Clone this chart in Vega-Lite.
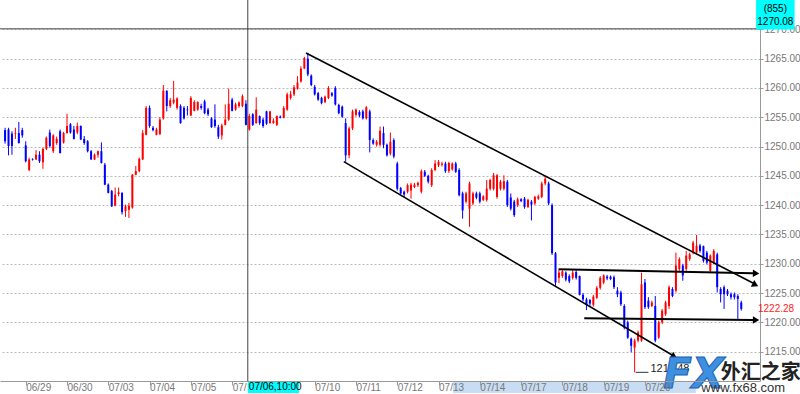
{
"$schema": "https://vega.github.io/schema/vega-lite/v6.json",
"width": 760, "height": 381,
"autosize": "none",
"padding": {"left": 0, "top": 0, "right": 40, "bottom": 13},
"background": "white",
"config": {"view": {"stroke": null}, "font": "Liberation Sans"},
"data": {"values": [
{"t":-6,"o":1252.8,"h":1253.2,"l":1250.5,"c":1250.9},
{"t":-5,"o":1252.9,"h":1253.2,"l":1248.5,"c":1250.1},
{"t":-4,"o":1252.2,"h":1252.6,"l":1248.6,"c":1250.1},
{"t":-3,"o":1252.2,"h":1253.2,"l":1251.3,"c":1252.3},
{"t":-2,"o":1252.3,"h":1254.2,"l":1250.5,"c":1250.6},
{"t":-1,"o":1252.8,"h":1253.2,"l":1251.5,"c":1251.9},
{"t":0,"o":1250.2,"h":1250.9,"l":1247.3,"c":1247.5},
{"t":1,"o":1246.0,"h":1248.1,"l":1245.8,"c":1247.8},
{"t":2,"o":1247.8,"h":1248.0,"l":1247.6,"c":1247.7},
{"t":3,"o":1247.8,"h":1249.4,"l":1247.7,"c":1248.6},
{"t":4,"o":1248.6,"h":1249.2,"l":1247.2,"c":1247.5},
{"t":5,"o":1247.3,"h":1249.8,"l":1246.2,"c":1249.6},
{"t":6,"o":1249.6,"h":1251.7,"l":1249.4,"c":1251.5},
{"t":7,"o":1252.4,"h":1252.9,"l":1249.8,"c":1250.1},
{"t":8,"o":1249.2,"h":1252.1,"l":1248.9,"c":1251.9},
{"t":9,"o":1250.6,"h":1251.7,"l":1250.3,"c":1251.3},
{"t":10,"o":1252.6,"h":1252.9,"l":1248.8,"c":1248.9},
{"t":11,"o":1250.7,"h":1252.5,"l":1250.5,"c":1252.3},
{"t":12,"o":1252.3,"h":1255.6,"l":1252.2,"c":1253.5},
{"t":13,"o":1253.8,"h":1254.0,"l":1252.2,"c":1252.4},
{"t":14,"o":1252.9,"h":1253.5,"l":1251.2,"c":1251.3},
{"t":15,"o":1252.4,"h":1254.1,"l":1252.1,"c":1253.5},
{"t":16,"o":1253.5,"h":1253.6,"l":1251.1,"c":1251.2},
{"t":17,"o":1251.3,"h":1251.8,"l":1250.3,"c":1250.6},
{"t":18,"o":1250.9,"h":1251.1,"l":1249.0,"c":1249.2},
{"t":19,"o":1249.2,"h":1249.4,"l":1247.7,"c":1247.8},
{"t":20,"o":1247.8,"h":1248.8,"l":1247.7,"c":1248.6},
{"t":21,"o":1248.6,"h":1249.3,"l":1248.1,"c":1249.2},
{"t":22,"o":1249.2,"h":1250.7,"l":1247.1,"c":1247.2},
{"t":23,"o":1246.9,"h":1247.2,"l":1243.4,"c":1243.5},
{"t":24,"o":1243.5,"h":1243.7,"l":1242.0,"c":1242.1},
{"t":25,"o":1242.4,"h":1242.6,"l":1239.7,"c":1239.8},
{"t":26,"o":1239.9,"h":1243.0,"l":1239.8,"c":1241.8},
{"t":27,"o":1241.9,"h":1243.0,"l":1241.5,"c":1242.2},
{"t":28,"o":1242.1,"h":1242.2,"l":1238.4,"c":1238.8},
{"t":29,"o":1239.0,"h":1240.1,"l":1238.0,"c":1239.8},
{"t":30,"o":1239.2,"h":1240.4,"l":1237.8,"c":1239.9},
{"t":31,"o":1239.6,"h":1245.3,"l":1239.4,"c":1245.2},
{"t":32,"o":1245.2,"h":1246.7,"l":1245.1,"c":1245.8},
{"t":33,"o":1245.8,"h":1248.1,"l":1245.6,"c":1247.9},
{"t":34,"o":1247.8,"h":1252.8,"l":1247.7,"c":1252.3},
{"t":35,"o":1252.0,"h":1256.9,"l":1251.9,"c":1256.6},
{"t":36,"o":1256.6,"h":1257.0,"l":1253.2,"c":1253.5},
{"t":37,"o":1253.2,"h":1253.5,"l":1252.6,"c":1252.8},
{"t":38,"o":1252.0,"h":1253.2,"l":1251.9,"c":1252.9},
{"t":39,"o":1252.1,"h":1255.0,"l":1252.0,"c":1254.6},
{"t":40,"o":1254.8,"h":1260.5,"l":1254.6,"c":1259.5},
{"t":41,"o":1259.5,"h":1259.6,"l":1256.0,"c":1256.9},
{"t":42,"o":1256.9,"h":1258.3,"l":1256.6,"c":1257.9},
{"t":43,"o":1257.5,"h":1261.2,"l":1257.2,"c":1258.0},
{"t":44,"o":1256.6,"h":1258.4,"l":1256.3,"c":1258.2},
{"t":45,"o":1256.9,"h":1257.2,"l":1253.9,"c":1254.0},
{"t":46,"o":1256.6,"h":1256.9,"l":1254.6,"c":1254.8},
{"t":47,"o":1256.3,"h":1256.9,"l":1255.3,"c":1256.2},
{"t":48,"o":1255.3,"h":1258.6,"l":1255.2,"c":1258.3},
{"t":49,"o":1256.1,"h":1257.9,"l":1256.0,"c":1257.6},
{"t":50,"o":1256.3,"h":1257.7,"l":1256.1,"c":1257.6},
{"t":51,"o":1256.9,"h":1257.3,"l":1256.3,"c":1256.6},
{"t":52,"o":1257.7,"h":1258.0,"l":1255.5,"c":1255.7},
{"t":53,"o":1256.3,"h":1256.6,"l":1255.2,"c":1255.5},
{"t":54,"o":1254.8,"h":1255.0,"l":1253.2,"c":1253.3},
{"t":55,"o":1254.6,"h":1257.2,"l":1253.2,"c":1253.5},
{"t":56,"o":1253.3,"h":1253.7,"l":1251.3,"c":1251.7},
{"t":57,"o":1251.9,"h":1253.9,"l":1251.2,"c":1253.6},
{"t":58,"o":1253.7,"h":1257.2,"l":1253.6,"c":1254.6},
{"t":59,"o":1254.6,"h":1259.9,"l":1254.4,"c":1257.3},
{"t":60,"o":1258.0,"h":1258.3,"l":1256.0,"c":1256.1},
{"t":61,"o":1256.3,"h":1257.5,"l":1256.1,"c":1257.2},
{"t":62,"o":1256.9,"h":1257.7,"l":1256.6,"c":1257.5},
{"t":63,"o":1256.9,"h":1258.9,"l":1256.7,"c":1258.6},
{"t":64,"o":1257.3,"h":1257.9,"l":1253.6,"c":1253.7},
{"t":65,"o":1252.9,"h":1255.6,"l":1252.7,"c":1255.2},
{"t":66,"o":1255.5,"h":1255.7,"l":1253.5,"c":1253.7},
{"t":67,"o":1254.0,"h":1258.4,"l":1253.9,"c":1256.3},
{"t":68,"o":1255.2,"h":1255.3,"l":1253.7,"c":1254.0},
{"t":69,"o":1254.6,"h":1254.9,"l":1253.2,"c":1253.5},
{"t":70,"o":1256.0,"h":1256.1,"l":1253.7,"c":1253.9},
{"t":71,"o":1254.0,"h":1256.1,"l":1253.9,"c":1256.0},
{"t":72,"o":1254.0,"h":1254.8,"l":1253.9,"c":1254.4},
{"t":73,"o":1253.7,"h":1255.3,"l":1253.5,"c":1255.2},
{"t":74,"o":1255.1,"h":1255.3,"l":1254.8,"c":1254.9},
{"t":75,"o":1254.9,"h":1256.9,"l":1254.8,"c":1256.6},
{"t":76,"o":1256.3,"h":1259.2,"l":1256.1,"c":1258.9},
{"t":77,"o":1258.3,"h":1259.5,"l":1258.0,"c":1258.9},
{"t":78,"o":1258.9,"h":1260.5,"l":1258.6,"c":1260.1},
{"t":79,"o":1259.9,"h":1262.0,"l":1259.7,"c":1260.9},
{"t":80,"o":1261.1,"h":1263.7,"l":1260.9,"c":1263.3},
{"t":81,"o":1263.3,"h":1265.3,"l":1263.2,"c":1265.1},
{"t":82,"o":1265.0,"h":1266.0,"l":1262.0,"c":1262.3},
{"t":83,"o":1262.1,"h":1262.3,"l":1260.3,"c":1260.5},
{"t":84,"o":1260.2,"h":1260.5,"l":1258.7,"c":1258.9},
{"t":85,"o":1259.1,"h":1259.3,"l":1257.8,"c":1258.0},
{"t":86,"o":1258.3,"h":1258.5,"l":1257.2,"c":1257.4},
{"t":87,"o":1257.6,"h":1258.7,"l":1257.4,"c":1258.5},
{"t":88,"o":1258.3,"h":1260.3,"l":1258.1,"c":1260.0},
{"t":89,"o":1259.1,"h":1259.3,"l":1258.5,"c":1258.7},
{"t":90,"o":1260.0,"h":1260.3,"l":1257.0,"c":1257.2},
{"t":91,"o":1257.1,"h":1257.3,"l":1255.5,"c":1255.7},
{"t":92,"o":1256.8,"h":1257.0,"l":1254.9,"c":1255.1},
{"t":93,"o":1254.0,"h":1254.8,"l":1247.4,"c":1248.5},
{"t":94,"o":1248.5,"h":1253.4,"l":1248.0,"c":1253.1},
{"t":95,"o":1253.1,"h":1256.3,"l":1252.8,"c":1256.0},
{"t":96,"o":1255.4,"h":1256.5,"l":1255.1,"c":1256.3},
{"t":97,"o":1255.9,"h":1256.2,"l":1255.0,"c":1255.3},
{"t":98,"o":1256.0,"h":1256.3,"l":1254.6,"c":1254.8},
{"t":99,"o":1254.8,"h":1256.9,"l":1254.6,"c":1256.7},
{"t":100,"o":1256.0,"h":1256.3,"l":1249.0,"c":1251.1},
{"t":101,"o":1251.1,"h":1251.4,"l":1250.3,"c":1250.5},
{"t":102,"o":1250.3,"h":1251.1,"l":1250.0,"c":1250.8},
{"t":103,"o":1250.3,"h":1253.4,"l":1250.0,"c":1252.7},
{"t":104,"o":1252.3,"h":1253.4,"l":1249.7,"c":1250.3},
{"t":105,"o":1250.3,"h":1250.5,"l":1248.3,"c":1248.5},
{"t":106,"o":1248.8,"h":1252.4,"l":1248.5,"c":1250.8},
{"t":107,"o":1251.1,"h":1251.4,"l":1248.0,"c":1248.3},
{"t":108,"o":1247.1,"h":1247.4,"l":1242.5,"c":1242.8},
{"t":109,"o":1242.9,"h":1243.1,"l":1241.8,"c":1242.0},
{"t":110,"o":1242.3,"h":1242.5,"l":1241.4,"c":1241.8},
{"t":111,"o":1242.3,"h":1243.7,"l":1242.0,"c":1243.4},
{"t":112,"o":1242.5,"h":1243.8,"l":1241.1,"c":1243.5},
{"t":113,"o":1243.1,"h":1243.8,"l":1242.9,"c":1243.5},
{"t":114,"o":1243.4,"h":1244.0,"l":1243.1,"c":1243.8},
{"t":115,"o":1242.3,"h":1246.1,"l":1242.0,"c":1245.8},
{"t":116,"o":1245.7,"h":1246.0,"l":1244.8,"c":1245.0},
{"t":117,"o":1245.0,"h":1245.2,"l":1243.7,"c":1244.0},
{"t":118,"o":1243.4,"h":1246.3,"l":1243.1,"c":1246.0},
{"t":119,"o":1246.0,"h":1247.7,"l":1245.8,"c":1247.1},
{"t":120,"o":1246.8,"h":1247.7,"l":1246.5,"c":1247.4},
{"t":121,"o":1246.9,"h":1247.4,"l":1246.6,"c":1247.1},
{"t":122,"o":1247.1,"h":1247.4,"l":1245.5,"c":1245.8},
{"t":123,"o":1245.8,"h":1247.4,"l":1245.5,"c":1247.2},
{"t":124,"o":1246.1,"h":1247.3,"l":1245.9,"c":1247.1},
{"t":125,"o":1247.1,"h":1247.4,"l":1245.5,"c":1245.7},
{"t":126,"o":1246.0,"h":1246.3,"l":1241.5,"c":1241.7},
{"t":127,"o":1242.0,"h":1242.3,"l":1237.7,"c":1239.1},
{"t":128,"o":1240.6,"h":1242.3,"l":1240.3,"c":1242.0},
{"t":129,"o":1239.4,"h":1244.0,"l":1236.3,"c":1243.7},
{"t":130,"o":1240.3,"h":1242.3,"l":1240.0,"c":1242.0},
{"t":131,"o":1242.0,"h":1242.3,"l":1241.0,"c":1241.3},
{"t":132,"o":1242.0,"h":1242.3,"l":1240.3,"c":1240.6},
{"t":133,"o":1240.9,"h":1241.7,"l":1240.7,"c":1241.5},
{"t":134,"o":1240.9,"h":1244.3,"l":1240.6,"c":1242.8},
{"t":135,"o":1242.8,"h":1244.5,"l":1242.5,"c":1244.3},
{"t":136,"o":1242.8,"h":1245.5,"l":1242.5,"c":1245.1},
{"t":137,"o":1241.4,"h":1245.3,"l":1241.1,"c":1245.1},
{"t":138,"o":1242.8,"h":1244.3,"l":1242.5,"c":1244.0},
{"t":139,"o":1242.8,"h":1245.1,"l":1242.5,"c":1244.1},
{"t":140,"o":1244.0,"h":1244.3,"l":1239.7,"c":1240.0},
{"t":141,"o":1241.3,"h":1242.0,"l":1239.1,"c":1239.4},
{"t":142,"o":1240.6,"h":1240.9,"l":1238.0,"c":1238.3},
{"t":143,"o":1240.0,"h":1241.3,"l":1239.7,"c":1241.0},
{"t":144,"o":1241.0,"h":1241.2,"l":1240.5,"c":1240.7},
{"t":145,"o":1241.1,"h":1241.4,"l":1239.4,"c":1239.7},
{"t":146,"o":1239.7,"h":1241.1,"l":1239.5,"c":1240.9},
{"t":147,"o":1240.6,"h":1240.9,"l":1237.4,"c":1240.1},
{"t":148,"o":1240.3,"h":1241.6,"l":1240.0,"c":1241.4},
{"t":149,"o":1241.1,"h":1241.8,"l":1240.9,"c":1241.5},
{"t":150,"o":1241.4,"h":1244.0,"l":1241.2,"c":1243.7},
{"t":151,"o":1243.7,"h":1245.1,"l":1243.4,"c":1244.5},
{"t":152,"o":1243.7,"h":1244.0,"l":1240.0,"c":1240.3},
{"t":153,"o":1240.0,"h":1240.3,"l":1231.5,"c":1231.8},
{"t":154,"o":1231.8,"h":1232.0,"l":1226.2,"c":1226.8},
{"t":155,"o":1227.6,"h":1229.0,"l":1226.7,"c":1228.5},
{"t":156,"o":1227.9,"h":1229.0,"l":1227.6,"c":1228.7},
{"t":157,"o":1228.5,"h":1228.7,"l":1227.0,"c":1227.3},
{"t":158,"o":1227.9,"h":1228.2,"l":1226.7,"c":1227.0},
{"t":159,"o":1227.6,"h":1229.1,"l":1227.3,"c":1228.5},
{"t":160,"o":1228.6,"h":1228.9,"l":1227.3,"c":1227.6},
{"t":161,"o":1227.9,"h":1228.0,"l":1224.6,"c":1224.7},
{"t":162,"o":1224.7,"h":1225.0,"l":1223.6,"c":1223.9},
{"t":163,"o":1223.9,"h":1224.2,"l":1222.1,"c":1223.0},
{"t":164,"o":1223.8,"h":1224.0,"l":1222.8,"c":1223.2},
{"t":165,"o":1223.0,"h":1224.7,"l":1222.7,"c":1224.4},
{"t":166,"o":1224.2,"h":1226.2,"l":1224.0,"c":1225.9},
{"t":167,"o":1225.9,"h":1227.9,"l":1225.6,"c":1227.6},
{"t":168,"o":1226.8,"h":1228.2,"l":1226.5,"c":1228.0},
{"t":169,"o":1227.8,"h":1228.1,"l":1227.2,"c":1227.5},
{"t":170,"o":1227.8,"h":1228.0,"l":1227.2,"c":1227.4},
{"t":171,"o":1227.7,"h":1228.0,"l":1225.7,"c":1226.0},
{"t":172,"o":1225.4,"h":1226.0,"l":1224.3,"c":1224.8},
{"t":173,"o":1225.1,"h":1225.4,"l":1222.8,"c":1223.1},
{"t":174,"o":1222.8,"h":1223.1,"l":1218.8,"c":1219.1},
{"t":175,"o":1220.0,"h":1220.3,"l":1217.2,"c":1217.4},
{"t":176,"o":1217.2,"h":1217.4,"l":1214.9,"c":1216.0},
{"t":177,"o":1215.7,"h":1217.2,"l":1211.48,"c":1216.9},
{"t":178,"o":1216.9,"h":1218.6,"l":1216.6,"c":1218.3},
{"t":179,"o":1216.9,"h":1228.5,"l":1216.7,"c":1226.5},
{"t":180,"o":1226.8,"h":1227.4,"l":1222.3,"c":1222.6},
{"t":181,"o":1223.7,"h":1224.3,"l":1222.3,"c":1222.6},
{"t":182,"o":1222.8,"h":1223.7,"l":1222.6,"c":1223.4},
{"t":183,"o":1222.8,"h":1224.5,"l":1216.6,"c":1216.9},
{"t":184,"o":1217.4,"h":1220.3,"l":1217.2,"c":1220.0},
{"t":185,"o":1220.0,"h":1222.3,"l":1219.7,"c":1222.0},
{"t":186,"o":1221.4,"h":1223.7,"l":1221.1,"c":1223.4},
{"t":187,"o":1222.8,"h":1226.3,"l":1222.3,"c":1226.0},
{"t":188,"o":1225.7,"h":1226.0,"l":1224.3,"c":1224.5},
{"t":189,"o":1225.4,"h":1231.9,"l":1225.1,"c":1229.7},
{"t":190,"o":1229.1,"h":1231.1,"l":1228.8,"c":1230.8},
{"t":191,"o":1229.7,"h":1230.0,"l":1227.1,"c":1228.0},
{"t":192,"o":1229.1,"h":1232.2,"l":1228.8,"c":1231.4},
{"t":193,"o":1230.8,"h":1231.9,"l":1230.5,"c":1231.6},
{"t":194,"o":1231.9,"h":1233.9,"l":1231.6,"c":1233.6},
{"t":195,"o":1231.9,"h":1234.9,"l":1231.6,"c":1233.1},
{"t":196,"o":1233.1,"h":1233.4,"l":1231.9,"c":1232.2},
{"t":197,"o":1233.0,"h":1233.1,"l":1230.2,"c":1230.5},
{"t":198,"o":1231.9,"h":1232.2,"l":1229.9,"c":1230.2},
{"t":199,"o":1228.8,"h":1231.6,"l":1228.5,"c":1231.4},
{"t":200,"o":1230.2,"h":1232.5,"l":1229.9,"c":1232.2},
{"t":201,"o":1231.6,"h":1231.9,"l":1225.1,"c":1226.0},
{"t":202,"o":1225.7,"h":1226.0,"l":1223.4,"c":1224.8},
{"t":203,"o":1226.0,"h":1226.3,"l":1222.3,"c":1224.8},
{"t":204,"o":1225.4,"h":1225.7,"l":1224.5,"c":1224.8},
{"t":205,"o":1224.8,"h":1225.1,"l":1223.9,"c":1224.3},
{"t":206,"o":1224.8,"h":1225.1,"l":1223.9,"c":1224.3},
{"t":207,"o":1224.5,"h":1224.8,"l":1220.6,"c":1224.0},
{"t":208,"o":1223.4,"h":1223.7,"l":1222.0,"c":1222.3}
]},
"layer": [
{"mark": {"type": "rule", "strokeWidth": 1},
 "encoding": {
  "x": {"field": "t", "type": "quantitative", "title": null,
        "scale": {"domain": [-6.024, 211.99], "nice": false, "zero": false},
        "axis": {"values": [0,12,24,36,48,60,84,96,108,120,132,144,156,168,180],
                 "labelExpr": "['06/28','06/29','06/30','07/03','07/04','07/05','07/','07/07','07/10','07/11','07/12','07/13','07/14','07/17','07/18','07/19','07/20','07/21'][round(datum.value/12)+1]",
                 "labelAlign": "left", "labelDx": 2, "labelFontSize": 10, "labelColor": "#777777",
                 "labelBaseline": "top", "labelPadding": -3, "labelBound": false, "labelFlush": false, "labelOverlap": false,
                 "tickSize": 4, "tickColor": "#999999", "domainColor": "#999999", "grid": false, "zindex": 1, "title": null}},
  "y": {"field": "l", "type": "quantitative", "title": null,
        "scale": {"domain": [1210, 1275], "nice": false, "zero": false},
        "axis": {"orient": "right", "values": [1215,1220,1225,1230,1235,1240,1245,1250,1255,1260,1265,1270],
                 "tickCount": 13,
                 "format": ".2f", "labelFontSize": 10, "labelColor": "#777777", "labelPadding": 1,
                 "tickSize": 3, "tickColor": "#999999", "domainColor": "#999999",
                 "grid": true, "gridColor": "#bbbbbb", "gridDash": [2, 2], "labelFlush": false, "labelOverlap": false, "title": null}},
  "y2": {"field": "h"},
  "color": {"condition": {"test": "datum.c < datum.o", "value": "#0000ff"}, "value": "#ff0000"}}},
{"mark": {"type": "bar", "width": 2},
 "encoding": {
  "x": {"field": "t", "type": "quantitative", "title": null},
  "y": {"field": "o", "type": "quantitative", "title": null},
  "y2": {"field": "c"},
  "color": {"condition": {"test": "datum.c < datum.o", "value": "#0000ff"}, "value": "#ff0000"}}},
{"data": {"values": [{}]},
 "mark": {"type": "rect", "color": "#c8ddf4", "clip": false},
 "encoding": {"x": {"datum": 124.2, "type": "quantitative"}, "x2": {"datum": 194.8}, "y": {"datum": 1210, "type": "quantitative"}, "y2": {"datum": 1207.95}}},
{"data": {"values": [{}]},
 "mark": {"type": "rule", "color": "#444444", "strokeWidth": 1},
 "encoding": {"x": {"datum": 64.55, "type": "quantitative"}}},
{"data": {"values": [{}]},
 "mark": {"type": "rule", "color": "#444444", "strokeWidth": 1},
 "encoding": {"y": {"datum": 1270.08, "type": "quantitative"}}},
{"data": {"values": [{"t1": 81.47, "p1": 1265.96, "t2": 211.4, "p2": 1226.72}, {"t1": 92.46, "p1": 1247.42, "t2": 187.9, "p2": 1214.44}]},
 "mark": {"type": "rule", "color": "#000000", "strokeWidth": 1.6, "clip": false},
 "encoding": {"x": {"field": "t1", "type": "quantitative", "title": null}, "y": {"field": "p1", "type": "quantitative", "title": null}, "x2": {"field": "t2"}, "y2": {"field": "p2"}}},
{"data": {"values": [{"t1": 154.9, "p1": 1229.06, "t2": 211.4, "p2": 1228.39}, {"t1": 162.36, "p1": 1220.70, "t2": 211.4, "p2": 1220.41}]},
 "mark": {"type": "rule", "color": "#000000", "strokeWidth": 2, "clip": false},
 "encoding": {"x": {"field": "t1", "type": "quantitative", "title": null}, "y": {"field": "p1", "type": "quantitative", "title": null}, "x2": {"field": "t2"}, "y2": {"field": "p2"}}},
{"data": {"values": [{}]},
 "mark": {"type": "point", "shape": "triangle-right", "filled": true, "color": "#000000", "size": 55, "angle": 27, "opacity": 1, "clip": false},
 "encoding": {"x": {"datum": 212.1, "type": "quantitative"}, "y": {"datum": 1226.4, "type": "quantitative"}}},
{"data": {"values": [{}]},
 "mark": {"type": "point", "shape": "triangle-right", "filled": true, "color": "#000000", "size": 55, "angle": 30, "opacity": 1, "clip": false},
 "encoding": {"x": {"datum": 188.5, "type": "quantitative"}, "y": {"datum": 1214.17, "type": "quantitative"}}},
{"data": {"values": [{}]},
 "mark": {"type": "point", "shape": "triangle-right", "filled": true, "color": "#000000", "size": 55, "angle": 1, "opacity": 1, "clip": false},
 "encoding": {"x": {"datum": 212.3, "type": "quantitative"}, "y": {"datum": 1228.36, "type": "quantitative"}}},
{"data": {"values": [{}]},
 "mark": {"type": "point", "shape": "triangle-right", "filled": true, "color": "#000000", "size": 55, "angle": 1, "opacity": 1, "clip": false},
 "encoding": {"x": {"datum": 212.3, "type": "quantitative"}, "y": {"datum": 1220.41, "type": "quantitative"}}},
{"data": {"values": [{}]},
 "mark": {"type": "rule", "color": "#333333", "strokeWidth": 1, "clip": false},
 "encoding": {"x": {"datum": 177.3, "type": "quantitative"}, "x2": {"datum": 181.0}, "y": {"datum": 1211.48, "type": "quantitative"}}},
{"data": {"values": [{}]},
 "mark": {"type": "text", "text": "1211.48", "align": "left", "baseline": "alphabetic", "fontSize": 11, "color": "#222222", "clip": false},
 "encoding": {"x": {"datum": 181.6, "type": "quantitative"}, "y": {"datum": 1211.48, "type": "quantitative"}}},
{"data": {"values": [{}]},
 "mark": {"type": "text", "text": "1222.28", "align": "left", "baseline": "middle", "fontSize": 10, "color": "#ff2020", "clip": false},
 "encoding": {"x": {"datum": 212.85, "type": "quantitative"}, "y": {"datum": 1222.28, "type": "quantitative"}}},
{"data": {"values": [{}]},
 "mark": {"type": "rect", "color": "#00ffff", "clip": false},
 "encoding": {"x": {"datum": 212.3, "type": "quantitative"}, "x2": {"datum": 223.5}, "y": {"datum": 1275, "type": "quantitative"}, "y2": {"datum": 1269.97}}},
{"data": {"values": [{}]},
 "mark": {"type": "text", "text": "(855)", "align": "center", "baseline": "middle", "fontSize": 10, "color": "#000000", "clip": false},
 "encoding": {"x": {"datum": 217.9, "type": "quantitative"}, "y": {"datum": 1273.4, "type": "quantitative"}}},
{"data": {"values": [{}]},
 "mark": {"type": "text", "text": "1270.08", "align": "center", "baseline": "middle", "fontSize": 10, "color": "#000000", "clip": false},
 "encoding": {"x": {"datum": 217.9, "type": "quantitative"}, "y": {"datum": 1271.2, "type": "quantitative"}}},
{"data": {"values": [{}]},
 "mark": {"type": "rect", "color": "#00ffff", "clip": false},
 "encoding": {"x": {"datum": 64.55, "type": "quantitative"}, "x2": {"datum": 79.46}, "y": {"datum": 1210.0, "type": "quantitative"}, "y2": {"datum": 1207.96}}},
{"data": {"values": [{}]},
 "mark": {"type": "text", "text": "07/06,10:00", "align": "left", "baseline": "middle", "fontSize": 10, "color": "#000000", "clip": false},
 "encoding": {"x": {"datum": 64.85, "type": "quantitative"}, "y": {"datum": 1208.95, "type": "quantitative"}}},
{"data": {"values": [{}]},
 "mark": {"type": "text", "text": "FX", "font": "DejaVu Sans", "align": "left", "baseline": "alphabetic", "fontSize": 42, "fontWeight": "bold", "fontStyle": "oblique", "color": "#3d8fe0", "stroke": "#1f5fb0", "strokeWidth": 1, "clip": false},
 "encoding": {"x": {"datum": 185.3, "type": "quantitative"}, "y": {"datum": 1208.8, "type": "quantitative"}}},
{"data": {"values": [{}]},
 "mark": {"type": "text", "text": "外汇之家", "font": "Noto Sans CJK SC", "align": "left", "baseline": "alphabetic", "fontSize": 20, "fontWeight": "bold", "color": "#222222", "clip": false},
 "encoding": {"x": {"datum": 202.0, "type": "quantitative"}, "y": {"datum": 1210.4, "type": "quantitative"}}},
{"data": {"values": [{}]},
 "mark": {"type": "text", "text": "www.fx68.com", "align": "left", "baseline": "alphabetic", "fontSize": 13, "color": "#333333", "clip": false},
 "encoding": {"x": {"datum": 196.4, "type": "quantitative"}, "y": {"datum": 1208.13, "type": "quantitative"}}}
]
}
